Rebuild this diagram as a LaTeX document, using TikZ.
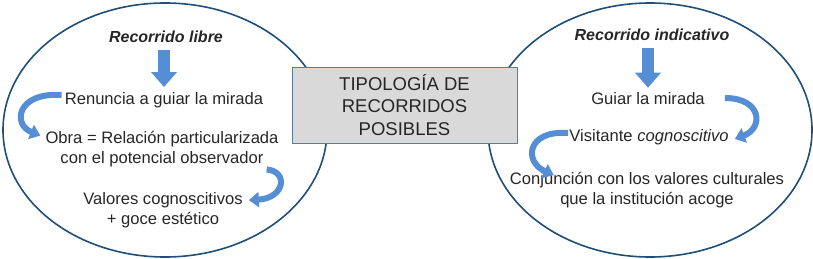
\documentclass[tikz,border=0pt]{standalone}
\usepackage{fontspec}
\setmainfont{Liberation Sans}
\usepackage{xcolor}
\usepackage{tikz}
\usetikzlibrary{positioning,arrows.meta,calc}
\definecolor{TRNavy}{HTML}{1F4E79}
\definecolor{TRArrow}{HTML}{558ED5}
\definecolor{TRGrey}{HTML}{D9D9D9}
\definecolor{TRFrame}{HTML}{5B7A9C}
\definecolor{TRText}{HTML}{262626}

\begin{document}
\begin{tikzpicture}[x=1pt,y=-1pt,>=Latex,
 ring/.style={draw=TRNavy,line width=1.6pt},
 txt/.style={font=\fontsize{16.6}{19.8}\selectfont,text=TRText,align=center,inner sep=0pt},
 head/.style={font=\fontsize{16}{19}\selectfont\bfseries\itshape,text=TRText,inner sep=0pt},
 titlebox/.style={draw=TRFrame,fill=TRGrey,line width=0.9pt,minimum width=225pt,minimum height=76pt,
   align=center,font=\fontsize{18.5}{22.5}\selectfont,text=TRText},
 downarrow/.style={draw=TRArrow,line width=12pt,-{Triangle[length=15pt 0,width=25pt 0]}},
 curvarrow/.style={draw=TRArrow,line width=6pt,-{Triangle[length=10pt 0,width=15pt 0]}}]
\useasboundingbox (0,0) rectangle (813,259);
\draw[ring] (165,130) ellipse [x radius=162,y radius=127];
\draw[ring] (650,130) ellipse [x radius=162,y radius=127];
\node[titlebox] (tipo) at (404.5,105) {TIPOLOGÍA DE\\RECORRIDOS\\POSIBLES};
% recorrido libre
\node[head] (ltitle) at (166,37) {Recorrido libre};
\node[txt] (lt1) at (164,100) {Renuncia a guiar la mirada};
\node[txt] (lt2) at (162,149.5) {Obra = Relación particularizada\\con el potencial observador};
\node[txt] (lt3) at (163,210) {Valores cognoscitivos\\+ goce estético};
\draw[downarrow,shorten <=7pt,shorten >=5pt] (lt1.north |- ltitle.south) -- (lt1.north);
\draw[curvarrow] ([xshift=-3pt,yshift=5pt]lt1.west) .. controls +(-45,-3) and +(-28,-11) .. ([xshift=-5pt,yshift=-4pt]lt2.north west);
\draw[curvarrow] ([xshift=-12pt,yshift=-2pt]lt2.south east) .. controls +(22,2) and +(36,-2) .. ([xshift=6pt,yshift=-8pt]lt3.north east);
% recorrido indicativo
\node[head] (rtitle) at (652,35) {Recorrido indicativo};
\node[txt] (rt1) at (648,99) {Guiar la mirada};
\node[txt] (rt2) at (649,137) {Visitante \textit{cognoscitivo}};
\node[txt] (rt3) at (647,190) {Conjunción con los valores culturales\\que la institución acoge};
\draw[downarrow,shorten <=7pt,shorten >=5pt] (rt1.north |- rtitle.south) -- (rt1.north);
\draw[curvarrow] ([xshift=20pt,yshift=1pt]rt1.east) .. controls +(37,0) and +(29,-11) .. ([xshift=6pt,yshift=-2pt]rt2.east);
\draw[curvarrow] ([xshift=-1pt,yshift=4pt]rt2.west) .. controls +(-42,-3) and +(-30,-13) .. ([xshift=44pt,yshift=-3pt]rt3.north west);
\end{tikzpicture}
\end{document}
